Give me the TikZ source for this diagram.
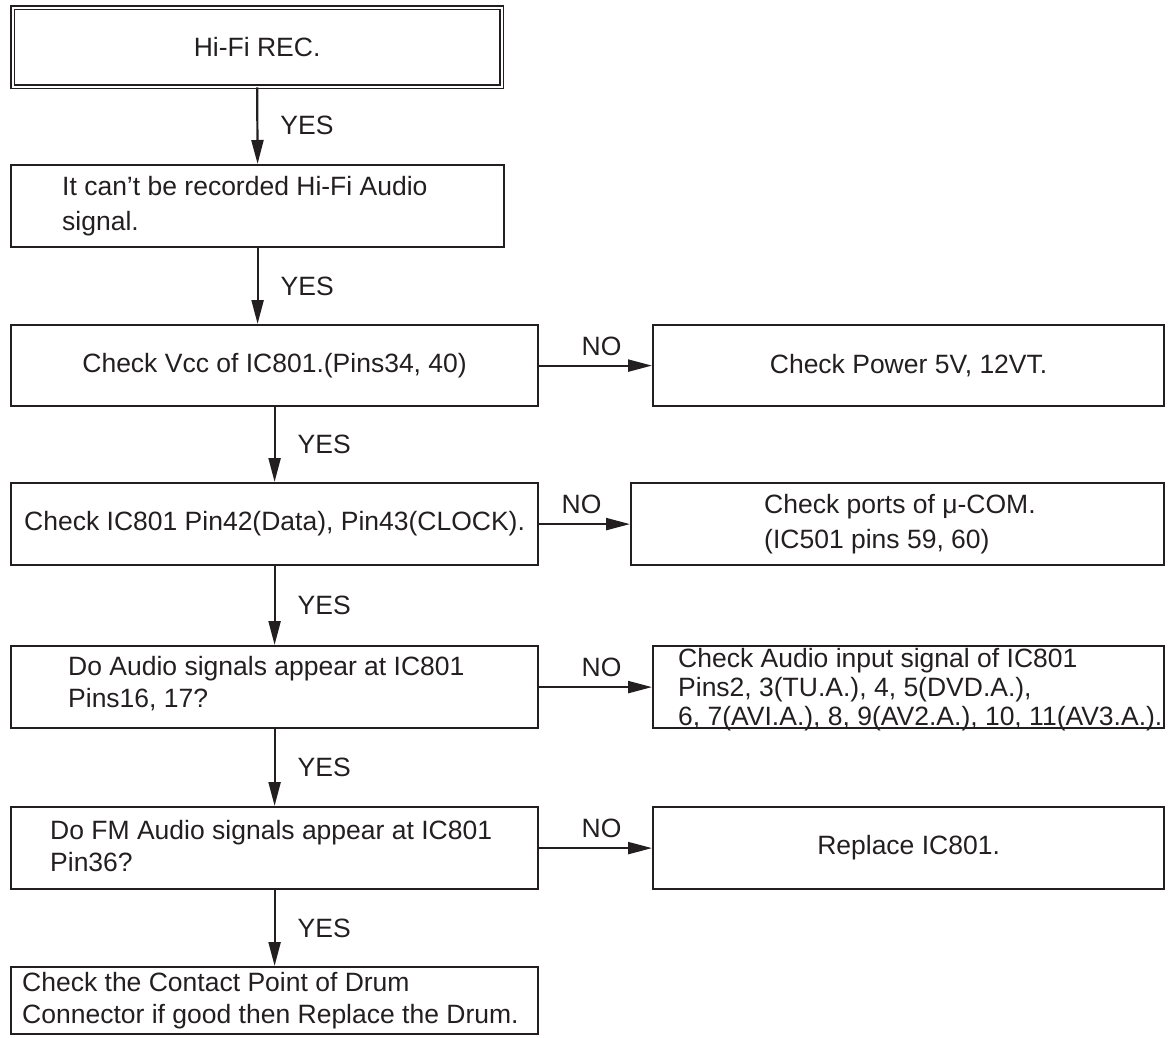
\documentclass[tikz,border=0pt]{standalone}
\usepackage{fontspec}
\setmainfont{Liberation Sans}
\usetikzlibrary{arrows.meta}
\definecolor{ink}{RGB}{35,31,32}
\begin{document}
\begin{tikzpicture}[x=1pt,y=-1pt,
  box/.style={draw=ink, line width=2.2pt, inner sep=0pt, anchor=north west},
  txt/.style={font=\fontsize{26.5}{32}\selectfont, text=ink, inner sep=0pt, align=left},
  arr/.style={draw=ink, line width=2.2pt, -{Triangle[length=24pt,width=12pt]}},
  lab/.style={font=\fontsize{26.5}{32}\selectfont, text=ink, inner sep=0pt}
]
\useasboundingbox (0,0) rectangle (1173,1038);
% left column boxes
\node[draw=ink, double, double distance=2pt, line width=1.3pt, inner sep=0pt, anchor=north west,
      minimum width=489pt, minimum height=79pt] (b1) at (12,7) {};
\node[box, minimum width=493pt, minimum height=82pt] (b2) at (10,164) {};
\node[box, minimum width=527pt, minimum height=81pt] (b3) at (10,324) {};
\node[box, minimum width=527pt, minimum height=82pt] (b4) at (10,482) {};
\node[box, minimum width=527pt, minimum height=82pt] (b5) at (10,645) {};
\node[box, minimum width=527pt, minimum height=82pt] (b6) at (10,806) {};
\node[box, minimum width=527pt, minimum height=67pt] (b7) at (10,966) {};
% right column boxes
\node[box, minimum width=511pt, minimum height=81pt] (r3) at (652,324) {};
\node[box, minimum width=533pt, minimum height=82pt] (r4) at (630,482) {};
\node[box, minimum width=511pt, minimum height=82pt] (r5) at (652,645) {};
\node[box, minimum width=511pt, minimum height=82pt] (r6) at (652,806) {};
% texts
\node[txt] (t1) at (b1.center) {Hi-Fi REC.};
\node[txt, anchor=west, font=\fontsize{26.5}{35}\selectfont] (t2) at (62,206) {It can’t be recorded Hi-Fi Audio\\signal.};
\node[txt] (t3) at (b3.center) {Check Vcc of IC801.(Pins34, 40)};
\node[txt] (t4) at (b4.center) {Check IC801 Pin42(Data), Pin43(CLOCK).};
\node[txt, anchor=west] (t5) at (68,684) {Do Audio signals appear at IC801\\Pins16, 17?};
\node[txt, anchor=west] (t6) at (50,846) {Do FM Audio signals appear at IC801\\Pin36?};
\node[txt, anchor=west] (t7) at (22,1001) {Check the Contact Point of Drum\\Connector if good then Replace the Drum.};
\node[txt] (s3) at (r3.center) {Check Power 5V, 12VT.};
\node[txt, anchor=west, font=\fontsize{26.5}{35}\selectfont] (s4) at (764,524) {Check ports of μ-COM.\\(IC501 pins 59, 60)};
\node[txt, anchor=west, font=\fontsize{26.5}{29}\selectfont] (s5) at (678,690) {Check Audio input signal of IC801\\Pins2, 3(TU.A.), 4, 5(DVD.A.),\\6, 7(AVI.A.), 8, 9(AV2.A.), 10, 11(AV3.A.).};
\node[txt] (s6) at (r6.center) {Replace IC801.};
% YES connectors
\draw[arr] (b1.south) -- node[lab, anchor=west, xshift=22pt] (y1) {YES} (b2.north);
\draw[arr] (b2.south) -- node[lab, anchor=west, xshift=22pt] (y2) {YES} (b2.south |- b3.north);
\draw[arr] (b3.south) -- node[lab, anchor=west, xshift=22pt] (y3) {YES} (b4.north);
\draw[arr] (b4.south) -- node[lab, anchor=west, xshift=22pt] (y4) {YES} (b5.north);
\draw[arr] (b5.south) -- node[lab, anchor=west, xshift=22pt] (y5) {YES} (b6.north);
\draw[arr] (b6.south) -- node[lab, anchor=west, xshift=22pt] (y6) {YES} (b7.north);
% NO connectors
\draw[arr] (b3.east) -- node[lab, anchor=south, yshift=9pt, xshift=6pt] (n3) {NO} (r3.west);
\draw[arr] (b4.east) -- node[lab, anchor=south, yshift=9pt, xshift=-3pt] (n4) {NO} (r4.west);
\draw[arr] (b5.east) -- node[lab, anchor=south, yshift=9pt, xshift=6pt] (n5) {NO} (r5.west);
\draw[arr] (b6.east) -- node[lab, anchor=south, yshift=9pt, xshift=6pt] (n6) {NO} (r6.west);
\end{tikzpicture}
\end{document}
